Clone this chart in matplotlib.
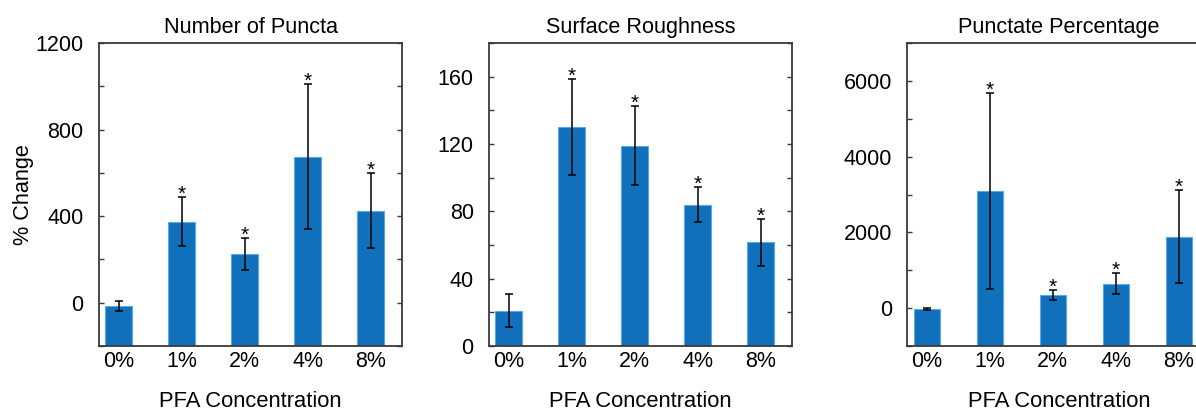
import matplotlib
matplotlib.use("Agg")
import matplotlib.pyplot as plt
from matplotlib.ticker import MultipleLocator, FixedLocator

plt.rcParams['font.family'] = ['Liberation Sans', 'DejaVu Sans']

categories = ['0%', '1%', '2%', '4%', '8%']

titles = ['Number of Puncta', 'Surface Roughness', 'Punctate Percentage']

puncta_mean = [-15, 375, 225, 675, 426]
puncta_err = [22, 113, 75, 335, 172]

rough_mean = [21, 130, 119, 84, 61.5]
rough_err = [10, 28.5, 23.5, 10.6, 14]

pct_mean = [-20, 3100, 350, 640, 1890]
pct_err = [20, 2590, 130, 280, 1225]

signif = [False, True, True, True, True]

means = [puncta_mean, rough_mean, pct_mean]
errs = [puncta_err, rough_err, pct_err]
ylims = [(-200, 1200), (0, 180), (-1000, 7000)]
majors = [[0, 400, 800, 1200], [0, 40, 80, 120, 160], [0, 2000, 4000, 6000]]
minors = [200, 20, 1000]

W, H = 1196, 413
fig = plt.figure(figsize=(W / 100, H / 100), dpi=100)

lefts = [99, 489, 907.3]
ax_w = 303
ax_bottom = 346
ax_top = 43

bar_color = '#1170bc'
edge_color = '#5aa8e4'
spine_color = '#3a3a3a'

for i in range(3):
    ax = fig.add_axes([lefts[i] / W, (H - ax_bottom) / H, ax_w / W, (ax_bottom - ax_top) / H])
    x = list(range(1, len(categories) + 1))
    base = ylims[i][0]
    ax.bar(x, [m - base for m in means[i]], bottom=base, width=0.42, color=bar_color,
           edgecolor=edge_color, linewidth=0.8, zorder=2)
    ax.errorbar(x, means[i], yerr=errs[i], fmt='none', ecolor='black', elinewidth=1.1,
                capsize=3, capthick=1.1, zorder=3)
    for xi, m, e, s in zip(x, means[i], errs[i], signif):
        if s:
            ax.annotate('*', xy=(xi, m + e), xytext=(0, -3), textcoords='offset pixels',
                        ha='center', va='baseline', fontsize=15, zorder=4)
    ax.set_xlim(0.69, 5.5)
    ax.set_ylim(*ylims[i])
    ax.set_xticks(x)
    ax.set_xticklabels(categories)
    ax.yaxis.set_major_locator(FixedLocator(majors[i]))
    ax.yaxis.set_minor_locator(MultipleLocator(minors[i]))
    ax.tick_params(axis='both', which='both', direction='in', length=3.5, width=1.0,
                   color=spine_color, labelsize=15.5)
    ax.tick_params(axis='y', which='both', right=True, pad=11)
    ax.tick_params(axis='x', which='both', top=False, pad=3.5)
    ax.tick_params(axis='x', which='minor', bottom=False)
    for sp in ax.spines.values():
        sp.set_color(spine_color)
        sp.set_linewidth(1.3)
    ax.set_title(titles[i], fontsize=15.6, pad=7.2)
    ax.set_xlabel('PFA Concentration', fontsize=15.8)
    ax.xaxis.set_label_coords(0.5, (ax_bottom - 407) / (ax_bottom - ax_top))
    ax.xaxis.label.set_va('baseline')
    if i == 0:
        ax.set_ylabel('% Change', fontsize=15.6)
        ax.yaxis.set_label_coords((23 - lefts[0]) / ax_w, 0.5)
        ax.yaxis.label.set_va('center')

fig.savefig('out.png', dpi=100)
